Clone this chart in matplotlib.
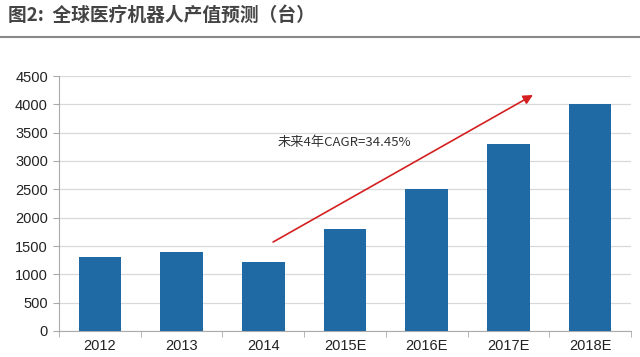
import matplotlib
matplotlib.use("Agg")
import matplotlib.pyplot as plt
import numpy as np

categories = ["2012", "2013", "2014", "2015E", "2016E", "2017E", "2018E"]
values = [1300, 1400, 1220, 1800, 2500, 3300, 4000]
yticks = [0, 500, 1000, 1500, 2000, 2500, 3000, 3500, 4000, 4500]
title = "图2:  全球医疗机器人产值预测（台）"
annotation = "未来4年CAGR=34.45%"

plt.rcParams['font.family'] = ['Liberation Sans', 'Noto Sans CJK SC', 'DejaVu Sans']

fig = plt.figure(figsize=(6.4, 3.57), dpi=100)
W, H = 640, 357
ax = fig.add_axes([59 / W, 1 - 331 / H, (631 - 59) / W, (331 - 76) / H])

x = np.arange(len(categories))
ax.bar(x, values, width=0.52, color="#1F69A4", zorder=3)

ax.set_xlim(-0.5, len(categories) - 0.5)
ax.set_ylim(0, 4500)
ax.set_yticks(yticks)
ax.set_yticklabels([str(v) for v in yticks], fontsize=10.5, color="#222222")
ax.yaxis.grid(True, color="#D9D9D9", linewidth=0.9, zorder=0)
ax.set_xticks(x)
ax.set_xticklabels(categories, fontsize=10.5, color="#222222")
ax.set_xticks(np.arange(-0.5, len(categories), 1), minor=True)
ax.tick_params(axis="x", which="major", length=0, pad=6)
ax.tick_params(axis="x", which="minor", length=4, color="#AAAAAA", direction="out")
ax.tick_params(axis="y", length=4, color="#AAAAAA", direction="out", pad=4)

for s in ["top", "right"]:
    ax.spines[s].set_visible(False)
ax.spines["left"].set_color("#AAAAAA")
ax.spines["bottom"].set_color("#AAAAAA")

ax.annotate("", xy=(5.30, 4165), xytext=(2.12, 1570),
            arrowprops=dict(arrowstyle="-|>", color="#D42020", lw=1.2,
                            mutation_scale=14, shrinkA=0, shrinkB=0), zorder=5)
ax.text(2.18, 3318, annotation, fontsize=9.5, color="#333333", va="center", ha="left",
        family=['Noto Sans CJK SC', 'DejaVu Sans'])

fig.text(8 / W, 1 - 15 / H, title, fontsize=13.5, fontweight="bold", color="#444444",
         va="center", ha="left", family=['Noto Sans CJK SC', 'DejaVu Sans'])
fig.add_artist(plt.Line2D([0, 1], [1 - 37 / H, 1 - 37 / H], color="#888888", lw=1.5,
                          transform=fig.transFigure))

fig.savefig("out.png", dpi=100)
